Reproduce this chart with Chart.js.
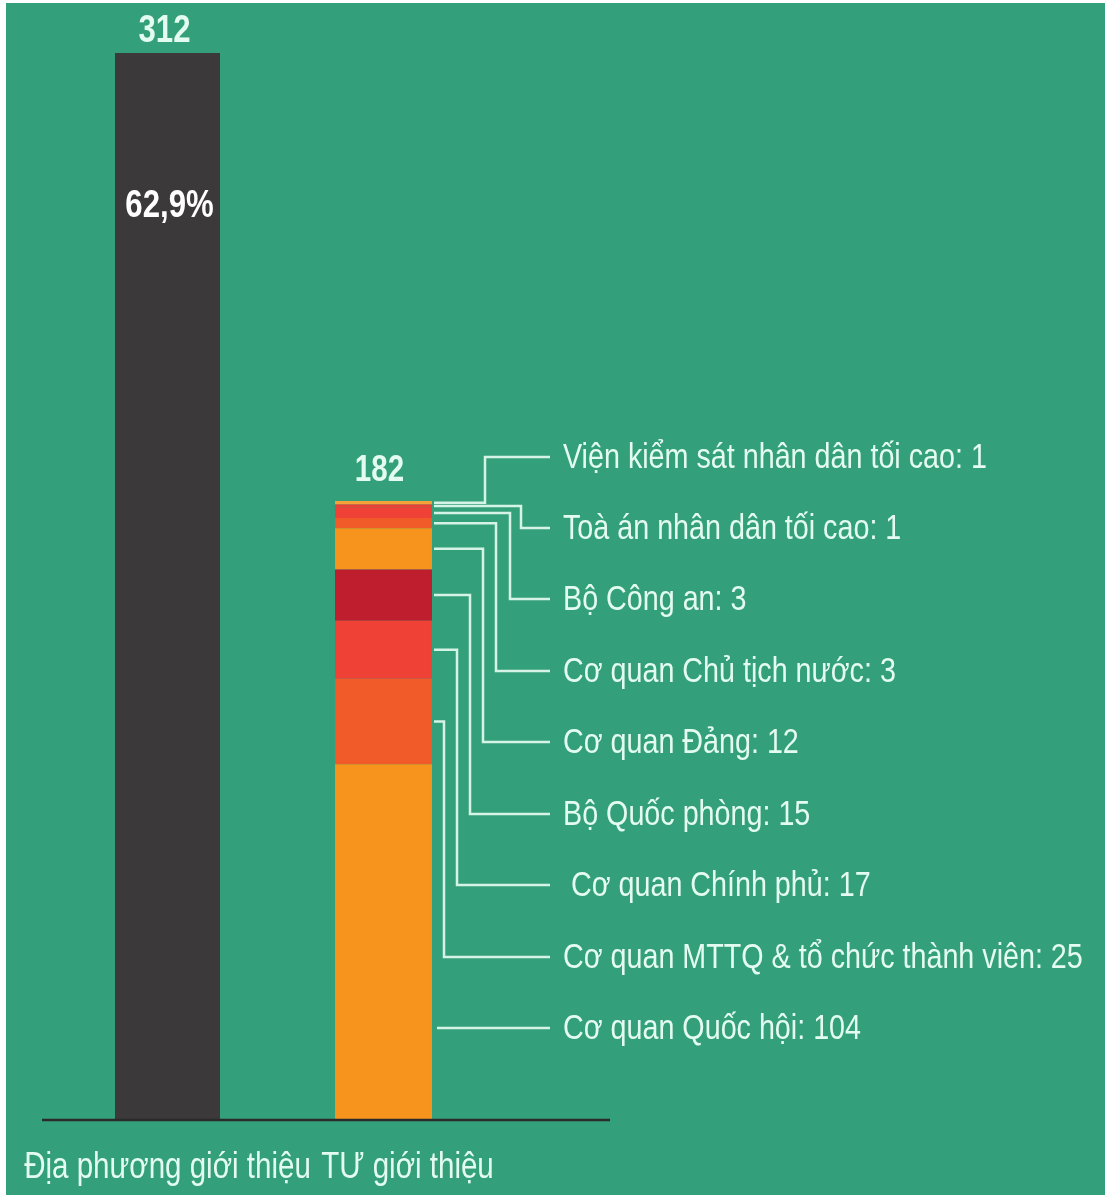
<!DOCTYPE html>
<html>
<head>
<meta charset="utf-8">
<script src="https://cdn.jsdelivr.net/npm/chart.js@4"></script>
<style>
  body { margin: 0; background: #ffffff; }
  #wrap { position: absolute; left: 6px; top: 3px; width: 1099px; height: 1192px; background: #34a07b; }
</style>
</head>
<body>
<div id="wrap"><canvas id="myChart" width="1099" height="1192"></canvas></div>
<script>
// data
const categories = ['Địa phương giới thiệu', 'TƯ giới thiệu'];
const localTotal = 312;
const localShare = '62,9%';
const centralTotal = 182; // figure printed on the graphic
const centralNames = ['Cơ quan Quốc hội', 'Cơ quan MTTQ & tổ chức thành viên', ' Cơ quan Chính phủ', 'Bộ Quốc phòng',
    'Cơ quan Đảng', 'Cơ quan Chủ tịch nước', 'Bộ Công an', 'Toà án nhân dân tối cao', 'Viện kiểm sát nhân dân tối cao'];
const centralValues = [104, 25, 17, 15, 12, 3, 3, 1, 1];

// styles
const centralColors = ['#f7941d', '#f15a29', '#ef4136', '#be1e2d', '#f7941d', '#f15a29', '#ef4136', '#ee3f37', '#f6a23a'];
const labelY = [1025, 954, 882, 811, 739, 668, 596, 525, 454];
const elbowX = [null, 438, 451, 464, 477, 490, 504, 515, 479];
const FONT = "'Liberation Sans', Arial, sans-serif";
const SQUEEZE = 0.82; // condensed look
const TEXT = '#e4fbf1';
const LINE = '#d6f3e7';

const datasets = [{
    label: categories[0],
    data: [localTotal, null],
    backgroundColor: '#3c393b',
    barPercentage: 0.486
}];
centralNames.forEach((name, i) => {
    datasets.push({
        label: name,
        data: [null, centralValues[i]],
        backgroundColor: centralColors[i],
        barPercentage: 0.449
    });
});

function narrowText(ctx, text, x, y) {
    ctx.save();
    ctx.translate(x, y);
    ctx.scale(SQUEEZE, 1);
    ctx.fillText(text, 0, 0);
    ctx.restore();
}

const annotate = {
    id: 'annotate',
    afterDatasetsDraw(chart) {
        const ctx = chart.ctx;
        const area = chart.chartArea;
        ctx.save();

        // baseline
        ctx.strokeStyle = '#2a2a2a';
        ctx.lineWidth = 2.5;
        ctx.beginPath();
        ctx.moveTo(36, area.bottom);
        ctx.lineTo(604, area.bottom);
        ctx.stroke();

        // totals
        const darkBar = chart.getDatasetMeta(0).data[0];
        const topBar = chart.getDatasetMeta(datasets.length - 1).data[1];
        ctx.fillStyle = TEXT;
        ctx.textAlign = 'center';
        ctx.textBaseline = 'middle';
        ctx.font = 'bold 38px ' + FONT;
        narrowText(ctx, String(localTotal), darkBar.x - 3, darkBar.y - 21);
        ctx.font = 'bold 36px ' + FONT;
        narrowText(ctx, String(centralTotal), topBar.x - 4, topBar.y - 30);
        ctx.fillStyle = '#ffffff';
        ctx.font = 'bold 38px ' + FONT;
        narrowText(ctx, localShare, darkBar.x + 2, darkBar.y + 154);

        // category labels
        ctx.fillStyle = TEXT;
        ctx.font = '36px ' + FONT;
        narrowText(ctx, categories[0], darkBar.x, 1165);
        narrowText(ctx, categories[1], topBar.x + 24, 1165);

        // leader lines + labels
        ctx.strokeStyle = LINE;
        ctx.lineWidth = 2.5;
        ctx.textAlign = 'left';
        ctx.font = '35px ' + FONT;
        centralNames.forEach((name, i) => {
            const bar = chart.getDatasetMeta(i + 1).data[1];
            const right = bar.x + bar.width / 2 + 2;
            const midY = (bar.y + bar.base) / 2;
            ctx.beginPath();
            if (elbowX[i] === null) {
                ctx.moveTo(right + 3, labelY[i]);
            } else {
                ctx.moveTo(right, midY);
                ctx.lineTo(elbowX[i], midY);
                ctx.lineTo(elbowX[i], labelY[i]);
            }
            ctx.lineTo(544, labelY[i]);
            ctx.stroke();
            ctx.fillStyle = TEXT;
            narrowText(ctx, name + ': ' + centralValues[i], 557, labelY[i] + 1);
        });
        ctx.restore();
    }
};

new Chart(document.getElementById('myChart').getContext('2d'), {
    type: 'bar',
    data: { labels: categories, datasets: datasets },
    options: {
        responsive: false,
        animation: false,
        devicePixelRatio: 1,
        layout: { padding: { left: 53.5, right: 613.5, top: 5.5, bottom: 75 } },
        plugins: { legend: { display: false }, tooltip: { enabled: false } },
        datasets: { bar: { categoryPercentage: 1, borderWidth: 0 } },
        scales: {
            x: { stacked: true, display: false },
            y: { stacked: true, display: false, min: 0, max: 325 }
        }
    },
    plugins: [annotate]
});
</script>
</body>
</html>
